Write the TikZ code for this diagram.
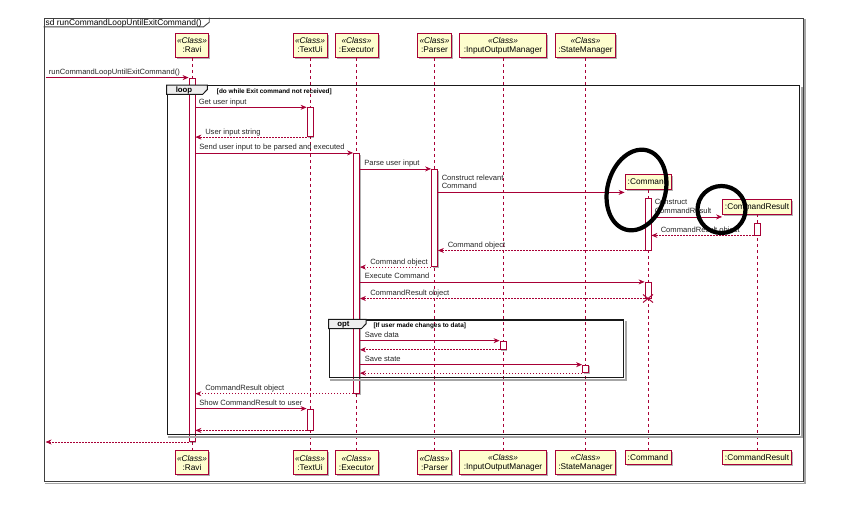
\documentclass[tikz,border=0pt]{standalone}
\usepackage{fontspec}
\setmainfont{Liberation Sans}
\usetikzlibrary{arrows.meta,shadows}

\definecolor{umlred}{HTML}{A80036}
\definecolor{umlfill}{HTML}{FEFECE}
\definecolor{tabfill}{HTML}{EEEEEE}

\tikzset{
  part/.style={draw=umlred, fill=umlfill, line width=0.8pt, align=center,
    minimum height=24pt, inner sep=1pt, font=\fontsize{8.3}{9}\selectfont,
    drop shadow={shadow xshift=1.5pt, shadow yshift=-1.5pt, opacity=0.3, fill=black}},
  life/.style={umlred, line width=0.6pt, dash pattern=on 3pt off 3pt},
  actb/.style={draw=umlred, fill=white, line width=0.8pt, minimum width=6pt, inner sep=0pt,
    drop shadow={shadow xshift=1.2pt, shadow yshift=-1.2pt, opacity=0.3, fill=black}},
  msg/.style={umlred, line width=0.7pt, -{Stealth[length=6pt,width=5pt]}},
  ret/.style={msg, dash pattern=on 1.5pt off 1.5pt},
  lbl/.style={text=black!85, font=\fontsize{7.6}{8.5}\selectfont, inner sep=0pt,
    anchor=base west, yshift=3pt},
  lbltwo/.style={lbl, anchor=south west, align=left},
  frag/.style={draw=black!90, line width=1.3pt, inner sep=0pt},
  fragtab/.style={draw=black!90, fill=tabfill, line width=1pt},
  fragshade/.style={black!35, line width=1.5pt},
  guard/.style={font=\bfseries\fontsize{6.4}{7}\selectfont, anchor=base west, inner sep=0pt},
  ring/.style={black, line width=4.2pt},
}

\begin{document}
\begin{tikzpicture}[x=1pt, y=-1pt]
  \useasboundingbox (0,0) rectangle (851,516);
  % outer frame with title tab
  \node[draw=black!75, line width=0.9pt, minimum width=759pt, minimum height=463.7pt, inner sep=0pt] (sd) at (423.5,249.85) {};
  \draw[black!35, line width=1.5pt] ([shift={(1.5,1.5)}]sd.north east) -- ([shift={(1.5,1.5)}]sd.south east) -- ([shift={(1.5,1.5)}]sd.south west);
  \draw[black!75, line width=0.9pt] ([yshift=-9.3pt]sd.north west) -- ++(160,0) -- ++(5.7,-4.6) -- ++(0,-4.7);
  \node[font=\fontsize{8.4}{9}\selectfont, anchor=base west, inner sep=0pt] (title) at (45.5,25.3) {sd runCommandLoopUntilExitCommand()};

  % participants on top
  \node[part, minimum width=33pt] (ravi) at (192,45.5) {\textit{«Class»}\\:Ravi};
  \node[part, minimum width=34pt] (textui) at (310,45.5) {\textit{«Class»}\\:TextUi};
  \node[part, minimum width=43pt] (exec) at (356.5,45.5) {\textit{«Class»}\\:Executor};
  \node[part, minimum width=34pt] (parser) at (434.5,45.5) {\textit{«Class»}\\:Parser};
  \node[part, minimum width=87pt] (iom) at (503,45.5) {\textit{«Class»}\\:InputOutputManager};
  \node[part, minimum width=60pt] (statemgr) at (585.5,45.5) {\textit{«Class»}\\:StateManager};
  \node[part, minimum width=46pt, minimum height=15pt] (cmd) at (648,182) {:Command};
  \node[part, minimum width=69pt, minimum height=15pt] (cmdres) at (757,206.5) {:CommandResult};

  % participants at the bottom
  \node[part, minimum width=33pt] (ravib) at (192,462.7) {\textit{«Class»}\\:Ravi};
  \node[part, minimum width=34pt] (textuib) at (310,462.7) {\textit{«Class»}\\:TextUi};
  \node[part, minimum width=43pt] (execb) at (356.5,462.7) {\textit{«Class»}\\:Executor};
  \node[part, minimum width=34pt] (parserb) at (434.5,462.7) {\textit{«Class»}\\:Parser};
  \node[part, minimum width=87pt] (iomb) at (503,462.7) {\textit{«Class»}\\:InputOutputManager};
  \node[part, minimum width=60pt] (statemgrb) at (585.5,462.7) {\textit{«Class»}\\:StateManager};
  \node[part, minimum width=46pt, minimum height=14pt] (cmdb) at (648,457.5) {:Command};
  \node[part, minimum width=69pt, minimum height=14pt] (cmdresb) at (757,457.5) {:CommandResult};

  % lifelines
  \draw[life] (ravi) -- (ravib);
  \draw[life] (textui) -- (textuib);
  \draw[life] (exec) -- (execb);
  \draw[life] (parser) -- (parserb);
  \draw[life] (iom) -- (iomb);
  \draw[life] (statemgr) -- (statemgrb);
  \draw[life] (cmd) -- (cmdb);
  \draw[life] (cmdres) -- (cmdresb);

  % activation bars
  \node[actb, minimum height=363.6pt] (aRavi) at (ravi |- 0,259.8) {};
  \node[actb, minimum height=29pt] (aText1) at (textui |- 0,122.2) {};
  \node[actb, minimum height=240pt] (aExec) at (exec |- 0,273.3) {};
  \node[actb, minimum height=97.4pt] (aParser) at (parser |- 0,218) {};
  \node[actb, minimum height=51.7pt] (aCmd1) at (cmd |- 0,224.2) {};
  \node[actb, minimum height=12pt] (aRes) at (cmdres |- 0,229) {};
  \node[actb, minimum height=15.8pt] (aCmd2) at (cmd |- 0,290.2) {};
  \node[actb, minimum height=8.3pt] (aIO) at (iom |- 0,345.2) {};
  \node[actb, minimum height=7.7pt] (aState) at (statemgr |- 0,368.9) {};
  \node[actb, minimum height=21pt] (aText2) at (textui |- 0,419.5) {};

  % loop fragment
  \node[frag, minimum width=632pt, minimum height=348.6pt] (loopf) at (483.3,260) {};
  \draw[fragshade] ([shift={(1.8,1.8)}]loopf.north east) -- ([shift={(1.8,1.8)}]loopf.south east) -- ([shift={(1.8,1.8)}]loopf.south west);
  \draw[fragtab] (loopf.north west) -- ++(40.7,0) -- ++(0,4.5) -- ++(-4.7,4.8) -- ++(-36,0) -- cycle;
  \node[font=\bfseries\fontsize{7.8}{8}\selectfont, inner sep=0pt] (loopt) at (184,90.6) {loop};
  \node[guard] (loopg) at (216.7,93.2) {[do while Exit command not received]};

  % opt fragment
  \node[frag, minimum width=294pt, minimum height=57.3pt] (optf) at (476.3,348.65) {};
  \draw[fragshade] ([shift={(1.8,1.8)}]optf.north east) -- ([shift={(1.8,1.8)}]optf.south east) -- ([shift={(1.8,1.8)}]optf.south west);
  \draw[fragtab] (optf.north west) -- ++(37.4,0) -- ++(0,4.5) -- ++(-4.7,4.8) -- ++(-32.7,0) -- cycle;
  \node[font=\bfseries\fontsize{7.8}{8}\selectfont, inner sep=0pt] (optt) at (343.5,325) {opt};
  \node[guard] (optg) at (373.3,327.4) {[If user made changes to data]};

  % messages
  \draw[msg] ([xshift=2pt]sd.west |- aRavi.north) -- (aRavi.north west) node[lbl, pos=0, xshift=3pt] (m1) {runCommandLoopUntilExitCommand()};
  \draw[msg] (aRavi.east |- aText1.north) -- (aText1.north west) node[lbl, pos=0, xshift=3pt] (m2) {Get user input};
  \draw[ret] (aText1.south west) -- (aRavi.east |- aText1.south) node[lbl, pos=1, xshift=9.5pt] (m3) {User input string};
  \draw[msg] (aRavi.east |- aExec.north) -- (aExec.north west) node[lbl, pos=0, xshift=3.5pt] (m4) {Send user input to be parsed and executed};
  \draw[msg] (aExec.east |- aParser.north) -- (aParser.north west) node[lbl, pos=0, xshift=4pt] (m5) {Parse user input};
  \coordinate (mkCmd) at ([yshift=-2.5pt]cmd.south west);
  \draw[msg] (aParser.east |- mkCmd) -- (mkCmd) node[lbltwo, pos=0, xshift=3.5pt] (m6) {Construct relevant\\Command};
  \coordinate (mkRes) at ([yshift=-2.5pt]cmdres.south west);
  \draw[msg] (aCmd1.east |- mkRes) -- (mkRes) node[lbltwo, pos=0, xshift=3pt] (m7) {Construct\\CommandResult};
  \draw[ret] (aRes.south west) -- (aCmd1.east |- aRes.south) node[lbl, pos=1, xshift=9pt] (m8) {CommandResult object};
  \draw[ret] (aCmd1.south west) -- (aParser.east |- aCmd1.south) node[lbl, pos=1, xshift=9.5pt] (m9) {Command object};
  \draw[ret] (aParser.south west) -- (aExec.east |- aParser.south) node[lbl, pos=1, xshift=10pt] (m10) {Command object};
  \draw[msg] (aExec.east |- aCmd2.north) -- (aCmd2.north west) node[lbl, pos=0, xshift=4.5pt] (m11) {Execute Command};
  \draw[ret] (aCmd2.south west) -- (aExec.east |- aCmd2.south) node[lbl, pos=1, xshift=10pt] (m12) {CommandResult object};
  % destroy Command
  \draw[umlred, line width=1pt] ([shift={(-5,-4)}]aCmd2.south) -- ([shift={(5,4)}]aCmd2.south);
  \draw[umlred, line width=1pt] ([shift={(-5,4)}]aCmd2.south) -- ([shift={(5,-4)}]aCmd2.south);
  \draw[msg] (aExec.east |- aIO.north) -- (aIO.north west) node[lbl, pos=0, xshift=4.5pt] (m13) {Save data};
  \draw[ret] (aIO.south west) -- (aExec.east |- aIO.south);
  \draw[msg] (aExec.east |- aState.north) -- (aState.north west) node[lbl, pos=0, xshift=4.5pt] (m14) {Save state};
  \draw[ret] (aState.south west) -- (aExec.east |- aState.south);
  \draw[ret] (aExec.south west) -- (aRavi.east |- aExec.south) node[lbl, pos=1, xshift=9.5pt] (m15) {CommandResult object};
  \draw[msg] (aRavi.east |- aText2.north) -- (aText2.north west) node[lbl, pos=0, xshift=3.5pt] (m16) {Show CommandResult to user};
  \draw[ret] (aText2.south west) -- (aRavi.east |- aText2.south);
  \draw[ret] (aRavi.south west) -- ([xshift=2pt]sd.west |- aRavi.south);

  % hand-drawn rings
  \draw[ring, rotate around={-15:(636.5,190)}] (636.5,190) ellipse [x radius=29pt, y radius=41pt];
  \draw[ring] (721.5,209.5) ellipse [x radius=24pt, y radius=23.5pt];
\end{tikzpicture}
\end{document}
